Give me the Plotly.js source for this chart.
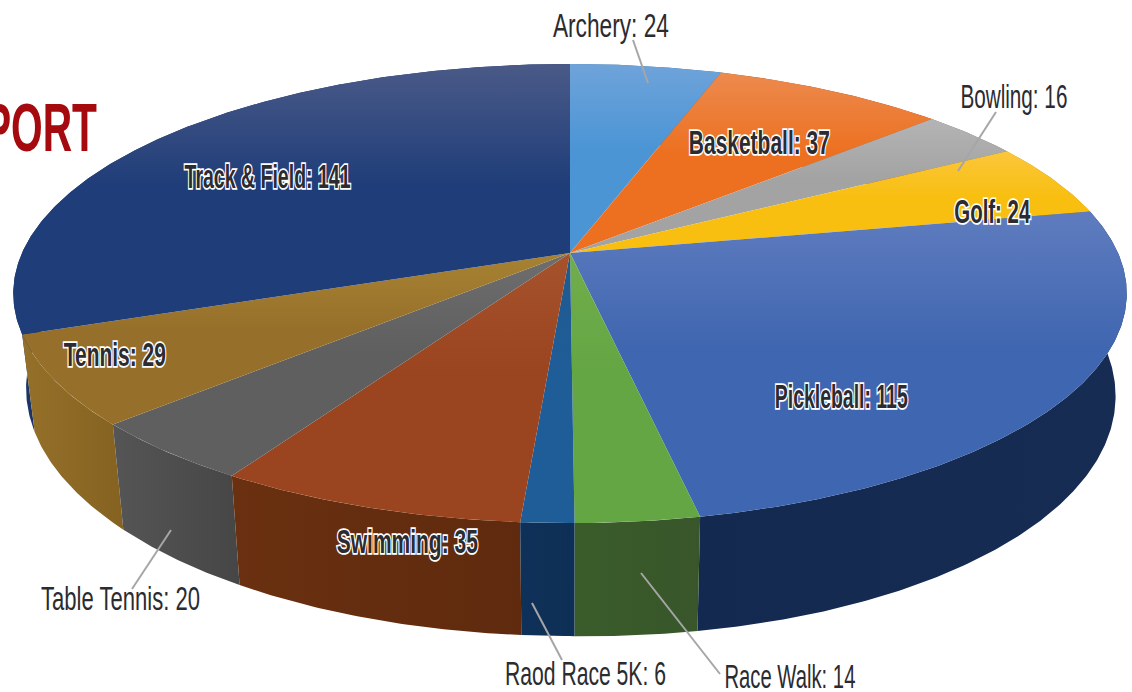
<!DOCTYPE html>
<html>
<head>
<meta charset="utf-8">
<script src="https://cdn.plot.ly/plotly-3.0.1.min.js"></script>
<style>html,body{margin:0;padding:0;background:#fff;overflow:hidden}</style>
</head>
<body>
<div id="chart" style="width:1132px;height:692px"></div>
<script>
// ---- data ----
const categories = ["Archery","Basketball","Bowling","Golf","Pickleball","Race Walk","Raod Race 5K","Swimming","Table Tennis","Tennis","Track & Field"];
const values = [24,37,16,24,115,14,6,35,20,29,141];

// ---- styles ----
const topLight = ["#6fa3da","#ec8a4e","#b4b4b4","#fbc63c","#5f7cbf","#72ad4c","#20598f","#a6532c","#6e6e6e","#a88232","#4a5a88"];
const topBase  = ["#4b95d5","#ed7020","#a3a3a3","#f8bf10","#3f66b0","#64a643","#1f5d98","#9a4420","#5f5f5f","#96702a","#1f3d79"];
const wallLeft  = ["#3a6f9e","#a5501a","#747474","#b08a10","#13294f","#3a5c2a","#0e3159","#6a3010","#555555","#94702a","#1b3569"];
const wallRight = ["#3a6f9e","#a5501a","#747474","#b08a10","#162c52","#38562a","#0e2f55","#5f2a0e","#464646","#856220","#1b3569"];

// ---- label layout: centre x, centre y, text width, outlined ----
const labelCx = [611,759,1014,992,841,790,585,407,120,115,267];
const labelCy = [25,142,96,211,396,676,673,541,598,354,176];
const labelW  = [116,141,107,76,133,131,161,141,159,102,166];
const outlined = [false,true,false,true,true,false,false,true,false,true,true];
// ---- leader lines [x0,y0,x1,y1] ----
const leaders = [[633,40,648,83],[996,112,958,171],[132,589,171,530],[562,660,532,603],[720,674,641,573]];

// ---- projection of the tilted disc ----
const CX=570, CY=253, K=0.1765, A=222.4, B=548;
function project(deg){
  const r=deg*Math.PI/180, u=Math.sin(r), v=-Math.cos(r), w=1-K*v;
  return [CX+B*u/w, CY+A*v/w];
}
function lower(p){
  const dx=p[0]-CX;
  const extra = dx>0 ? dx/556*8 : 0;
  return [CX+dx*(dx>0?0.98:0.977), p[1]+113+0.08*(p[1]-523)+extra];
}
function arc(a0,a1){
  const n=Math.max(2,Math.ceil((a1-a0)*2)), out=[];
  for(let i=0;i<=n;i++) out.push(project(a0+(a1-a0)*i/n));
  return out;
}

const total = values.reduce((a,b)=>a+b,0);
const wedges=[]; let cum=0;
values.forEach((val,i)=>{ const a0=cum/total*360; cum+=val; wedges.push({i,a0,a1:cum/total*360}); });

const wallTraces = wedges.map(w=>{
  const top=arc(w.a0,w.a1), bot=top.map(lower).reverse(), pts=top.concat(bot); pts.push(top[0]);
  const depth=Math.max(...top.map(p=>p[1]));
  return {depth,trace:{type:"scatter",mode:"lines",x:pts.map(p=>p[0]),y:pts.map(p=>p[1]),fill:"toself",
    line:{width:0,color:wallLeft[w.i]},hoverinfo:"skip",showlegend:false,
    fillgradient:{type:"horizontal",colorscale:[[0,wallLeft[w.i]],[1,wallRight[w.i]]]}}};
}).sort((a,b)=>a.depth-b.depth).map(o=>o.trace);

const topTraces = wedges.map(w=>{
  const pts=[[CX,CY]].concat(arc(w.a0,w.a1)); pts.push([CX,CY]);
  return {type:"scatter",mode:"lines",x:pts.map(p=>p[0]),y:pts.map(p=>p[1]),fill:"toself",name:categories[w.i],
    line:{width:0,color:topBase[w.i]},hoverinfo:"name",showlegend:false,
    fillgradient:{type:"vertical",colorscale:[[0,topBase[w.i]],[0.55,topBase[w.i]],[1,topLight[w.i]]]}};
});

const leaderTraces = leaders.map(l=>({type:"scatter",mode:"lines",x:[l[0],l[2]],y:[l[1],l[3]],
  line:{color:"#a6a6a6",width:2},hoverinfo:"skip",showlegend:false}));

const annotations = categories.map((c,i)=>({xref:"x",yref:"y",x:labelCx[i],y:labelCy[i],showarrow:false,
  xanchor:"center",yanchor:"middle",text:c+": "+values[i],
  font:{family:"Liberation Sans Narrow, Liberation Sans, sans-serif",size:34,color:"#2b2b30",
        weight:outlined[i]?700:400}}));
annotations.push({xref:"x",yref:"y",x:40.5,y:127,showarrow:false,xanchor:"center",yanchor:"middle",text:"PORT",
  font:{family:"Liberation Sans Narrow, Liberation Sans, sans-serif",size:68,color:"#a50a0f",weight:700}});
const textWidths = labelW.concat([113]);

Plotly.newPlot("chart",wallTraces.concat(topTraces,leaderTraces),{
  width:1132,height:692,margin:{l:0,r:0,t:0,b:0},paper_bgcolor:"#fff",plot_bgcolor:"#fff",showlegend:false,
  xaxis:{range:[0,1132],visible:false,fixedrange:true},
  yaxis:{range:[692,0],visible:false,fixedrange:true},
  annotations
},{displayModeBar:false,staticPlot:true}).then(()=>{
  document.querySelectorAll(".annotation-text").forEach((t,i)=>{
    t.setAttribute("textLength",textWidths[i]);
    t.setAttribute("lengthAdjust","spacingAndGlyphs");
    if(outlined[i]){
      t.style.stroke="#ffffff";
      t.style.strokeWidth="3.6px";
      t.style.paintOrder="stroke";
      t.style.strokeLinejoin="miter";
    }
  });
});
</script>
</body>
</html>
